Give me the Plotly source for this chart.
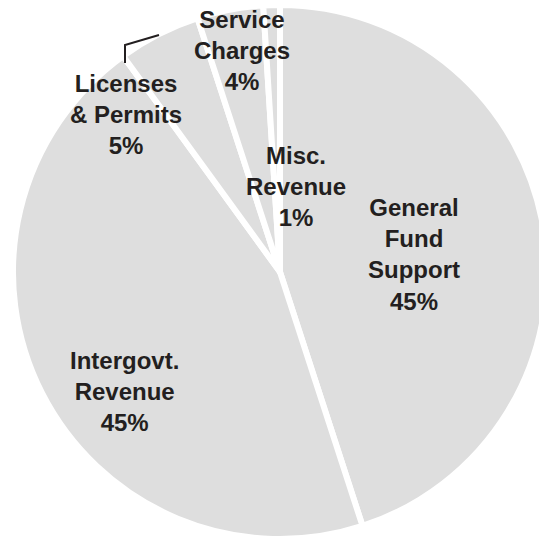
import plotly.graph_objects as go

# Revenue sources, clockwise from 12 o'clock
categories = ["General Fund Support", "Intergovt. Revenue", "Licenses & Permits",
              "Service Charges", "Misc. Revenue"]
values = [45, 45, 5, 4, 1]
label_lines = ["General<br>Fund<br>Support", "Intergovt.<br>Revenue", "Licenses<br>& Permits",
               "Service<br>Charges", "Misc.<br>Revenue"]

W, H = 547, 539
SLICE_GREY = "#dedede"
TEXT_COLOR = "#231f20"
FONT = "Liberation Sans, Arial, Helvetica, sans-serif"

fig = go.Figure(go.Pie(
    labels=categories,
    values=values,
    sort=False,
    direction="clockwise",
    rotation=0,
    textinfo="none",
    hoverinfo="label+percent",
    marker=dict(colors=[SLICE_GREY] * len(values), line=dict(color="white", width=6)),
    domain=dict(x=[13 / W, 1], y=[0, 534 / H]),
    showlegend=False,
))

# label block centres in pixels (x, y from top)
label_pos = [(414, 255), (124, 391), (126, 114), (242, 51), (296, 186)]

def px(x, y):
    return x / W, 1 - y / H

for text, v, (lx, ly) in zip(label_lines, values, label_pos):
    ax, ay = px(lx, ly)
    fig.add_annotation(
        x=ax, y=ay, xref="paper", yref="paper",
        text=f"{text}<br>{v}%", showarrow=False,
        xanchor="center", yanchor="middle", align="center",
        font=dict(family=FONT, size=24, color=TEXT_COLOR, weight="bold"),
    )

# leader tick beside the licenses label
p1, p2, p3 = px(125, 63), px(125, 45), px(159, 35)
fig.add_shape(
    type="path", xref="paper", yref="paper",
    path=f"M {p1[0]},{p1[1]} L {p2[0]},{p2[1]} L {p3[0]},{p3[1]}",
    line=dict(color=TEXT_COLOR, width=2),
)

fig.update_layout(
    width=W, height=H,
    margin=dict(l=0, r=0, t=0, b=0),
    paper_bgcolor="white",
    plot_bgcolor="white",
)

fig.write_html("out.html")
